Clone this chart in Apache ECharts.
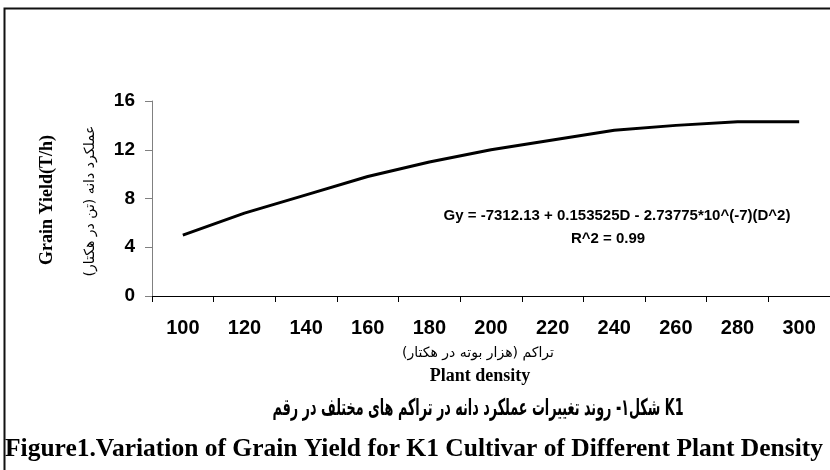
<!DOCTYPE html>
<html>
<head>
<meta charset="utf-8">
<title>Grain Yield K1</title>
<script src="https://cdn.jsdelivr.net/npm/echarts@6/dist/echarts.min.js"></script>
<style>
    html, body { margin: 0; padding: 0; background: #fff; }
    #main { width: 830px; height: 470px; }
</style>
</head>
<body>
<div id="main"></div>
<script>
// تراکم (هزار بوته در هکتار)
var density = ['100', '120', '140', '160', '180', '200', '220', '240', '260', '280', '300'];
// عملکرد دانه (تن در هکتار)
var grainYield = [5.0, 6.8, 8.3, 9.8, 11.0, 12.0, 12.8, 13.6, 14.0, 14.3, 14.3];

var yMin = 0;
var yMax = 16;
var yStep = 4;

var equationText = 'Gy = -7312.13 + 0.153525D - 2.73775*10^(-7)(D^2)';
var r2Text = 'R^2 = 0.99';
var yNameEn = 'Grain Yield(T/h)';
var yNameFa = 'عملکرد دانه (تن در هکتار)';
var xNameFa = 'تراکم (هزار بوته در هکتار)';
var xNameEn = 'Plant density';
var captionFa = 'شکل۱- روند تغییرات عملکرد دانه در تراکم های مختلف در رقم K1';
var captionEn = 'Figure1.Variation of Grain Yield for K1 Cultivar of Different Plant Density';

loadChart();

function loadChart() {
    var myChart = echarts.init(document.getElementById('main'));
    var serif = "'Liberation Serif', 'Times New Roman', serif";
    var sans = "'Liberation Sans', Arial, sans-serif";
    var fa = "'DejaVu Sans', sans-serif";

    var option = {
        animation: false,
        backgroundColor: '#fff',
        grid: {
            left: 152,
            top: 101,
            width: 696,
            height: 195
        },
        xAxis: {
            type: 'category',
            data: density,
            boundaryGap: true,
            axisLine: { lineStyle: { color: '#000', width: 1 } },
            axisTick: { show: true, length: 6, alignWithLabel: false, lineStyle: { color: '#000' } },
            axisLabel: {
                color: '#000',
                fontFamily: sans,
                fontWeight: 'bold',
                fontSize: 20,
                margin: 22,
                interval: 0
            },
            splitLine: { show: false }
        },
        yAxis: {
            type: 'value',
            min: yMin,
            max: yMax,
            interval: yStep,
            axisLine: { show: true, lineStyle: { color: '#808080', width: 1 } },
            axisTick: { show: true, length: 7, lineStyle: { color: '#808080' } },
            axisLabel: {
                color: '#000',
                fontFamily: sans,
                fontWeight: 'bold',
                fontSize: 19,
                margin: 17
            },
            splitLine: { show: false }
        },
        series: [
            {
                name: 'Grain Yield',
                type: 'line',
                data: grainYield,
                symbol: 'none',
                smooth: false,
                lineStyle: { color: '#000', width: 3 }
            }
        ],
        graphic: [
            {
                type: 'rect',
                shape: { x: 4.5, y: 8.5, width: 900, height: 520 },
                style: { fill: 'none', stroke: '#111', lineWidth: 2 }
            },
            {
                type: 'text', x: 47, y: 200, rotation: Math.PI / 2,
                style: { text: yNameEn, font: 'bold 18px ' + serif, fill: '#000', align: 'center', verticalAlign: 'middle' }
            },
            {
                type: 'text', x: 90, y: 201, rotation: Math.PI / 2,
                style: { text: yNameFa, font: '14px ' + fa, fill: '#000', align: 'center', verticalAlign: 'middle' }
            },
            {
                type: 'text', x: 617, y: 216,
                style: { text: equationText, font: 'bold 15px ' + sans, fill: '#000', align: 'center', verticalAlign: 'middle' }
            },
            {
                type: 'text', x: 608, y: 239,
                style: { text: r2Text, font: 'bold 15px ' + sans, fill: '#000', align: 'center', verticalAlign: 'middle' }
            },
            {
                type: 'text', x: 478, y: 353,
                style: { text: xNameFa, font: '14px ' + fa, fill: '#000', align: 'center', verticalAlign: 'middle' }
            },
            {
                type: 'text', x: 480, y: 376,
                style: { text: xNameEn, font: 'bold 18px ' + serif, fill: '#000', align: 'center', verticalAlign: 'middle' }
            },
            {
                // caption drawn narrow, as in the original figure
                type: 'text', x: 478, y: 409, scaleX: 0.555,
                style: { text: captionFa, font: 'bold 23px ' + fa, fill: '#000', align: 'center', verticalAlign: 'middle' }
            },
            {
                type: 'text', x: 414, y: 449,
                style: { text: captionEn, font: 'bold 25.5px ' + serif, fill: '#000', align: 'center', verticalAlign: 'middle' }
            }
        ]
    };
    option && myChart.setOption(option);
}
</script>
</body>
</html>
